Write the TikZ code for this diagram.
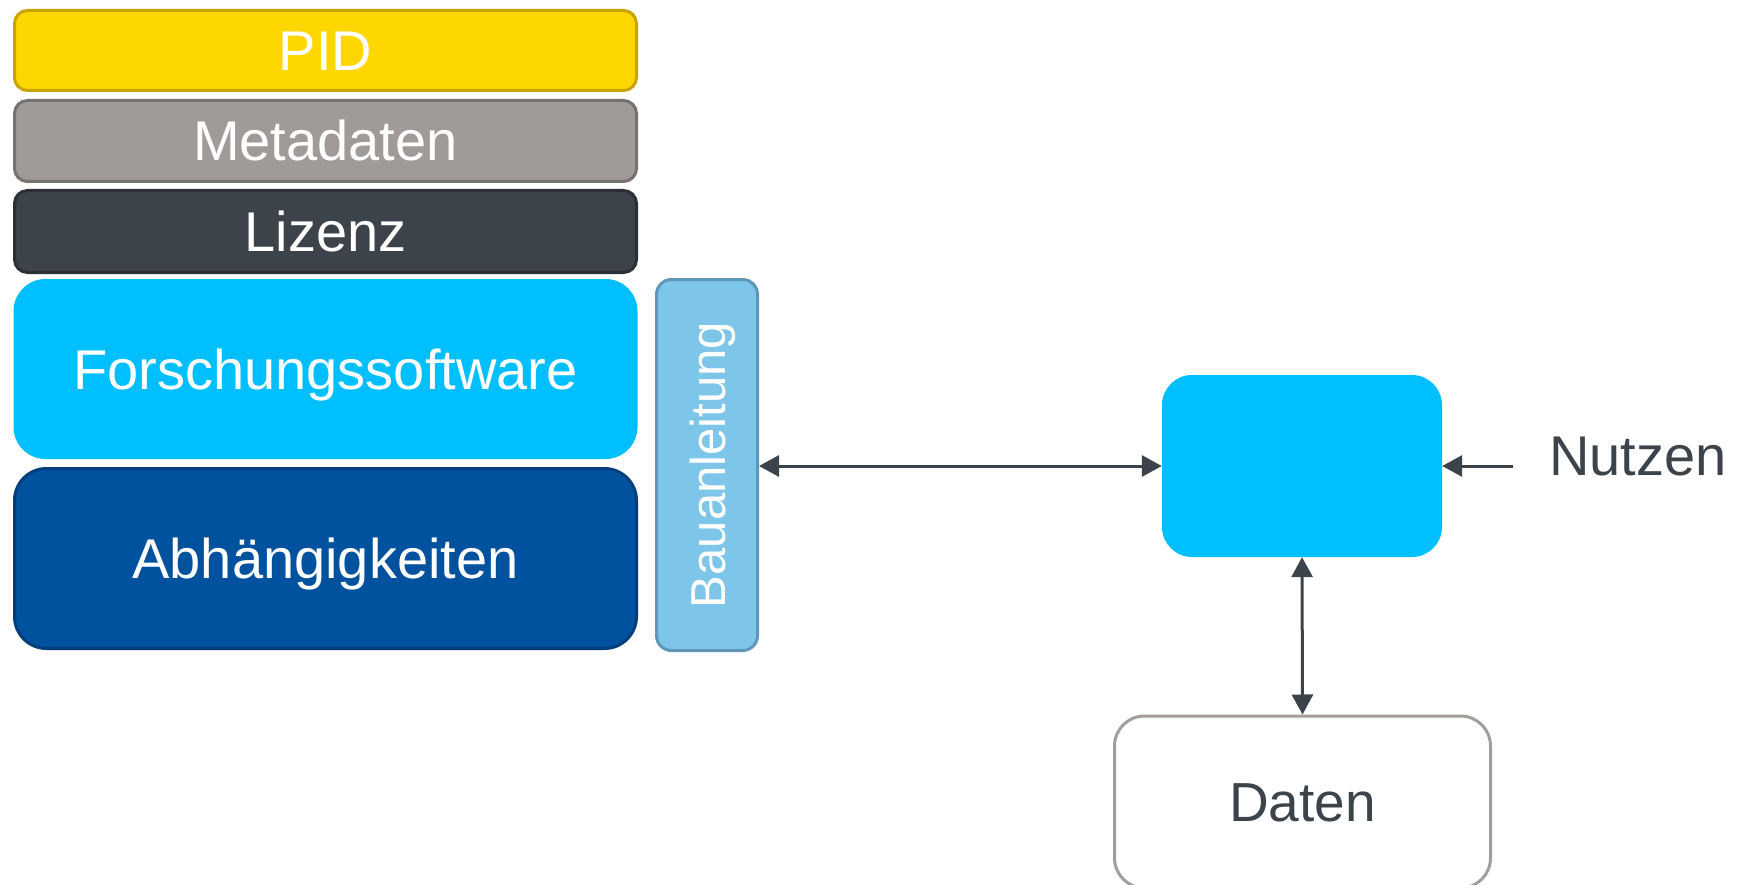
\documentclass[tikz,border=0pt]{standalone}
\usepackage{fontspec}
\setmainfont{Liberation Sans}
\usetikzlibrary{arrows.meta}
\definecolor{pidfill}{HTML}{FFD700}
\definecolor{piddraw}{HTML}{C9A300}
\definecolor{metafill}{HTML}{A09B98}
\definecolor{metadraw}{HTML}{77726F}
\definecolor{lizfill}{HTML}{3C434A}
\definecolor{lizdraw}{HTML}{2B3036}
\definecolor{skyfill}{HTML}{00BFFF}
\definecolor{abfill}{HTML}{00519E}
\definecolor{abdraw}{HTML}{003E7C}
\definecolor{baufill}{HTML}{7EC6E9}
\definecolor{baudraw}{HTML}{5E97B8}
\definecolor{datdraw}{HTML}{A39E9B}
\definecolor{darktext}{HTML}{3C434A}
\tikzset{
  layer/.style={rectangle, rounded corners=13pt, line width=3pt, minimum width=622pt,
    text=white, font=\fontsize{56}{60}\selectfont, text height=40pt, text depth=0pt, inner sep=0pt},
  bigbox/.style={rectangle, rounded corners=32pt, line width=3pt,
    text=white, font=\fontsize{56}{60}\selectfont, text height=40pt, text depth=0pt, inner sep=0pt},
  conn/.style={line width=3pt, draw=darktext, {Triangle[length=20pt,width=21pt]}-{Triangle[length=20pt,width=21pt]}},
  oneway/.style={line width=3pt, draw=darktext, -{Triangle[length=20pt,width=21pt]}},
}
\begin{document}
\begin{tikzpicture}[x=1pt,y=-1pt]
\useasboundingbox (0,0) rectangle (1747,885);
\clip (0,0) rectangle (1747,885);
\fill[white] (0,0) rectangle (1747,885);
\node[layer, fill=pidfill, draw=piddraw, minimum height=80pt] (pid) at (325.5,50.5) {PID};
\node[layer, fill=metafill, draw=metadraw, minimum height=81pt] (meta) at (325.5,141) {Metadaten};
\node[layer, fill=lizfill, draw=lizdraw, minimum height=82pt] (liz) at (325.5,231.5) {Lizenz};
\node[bigbox, fill=skyfill, minimum width=624pt, minimum height=180pt] (fs) at (325.5,369) {Forschungssoftware};
\node[bigbox, fill=abfill, draw=abdraw, minimum width=622pt, minimum height=180pt] (ab) at (325.5,558.5) {Abhängigkeiten};
\node[rectangle, rounded corners=15pt, line width=3pt, fill=baufill, draw=baudraw,
  minimum width=101pt, minimum height=371pt, inner sep=0pt] (bau) at (707,465) {};
\node[rotate=90, text=white, font=\fontsize{49}{52}\selectfont, text height=35pt, text depth=0pt, inner sep=0pt] (baut) at (707.5,465) {Bauanleitung};
\node[rectangle, rounded corners=30pt, fill=skyfill, minimum width=280pt, minimum height=182pt, inner sep=0pt] (box) at (1302,466) {};
\node[rectangle, rounded corners=30pt, line width=3pt, fill=white, draw=datdraw,
  minimum width=376pt, minimum height=172pt, inner sep=0pt, text=darktext,
  font=\fontsize{55}{60}\selectfont, text height=39.5pt, text depth=0pt] (daten) at (1302.5,802) {Daten};
\node[anchor=base west, text=darktext, font=\fontsize{56}{60}\selectfont, inner sep=0pt] (nutzen) at (1549,475) {Nutzen};
\coordinate (nstart) at (1513,466);
\draw[conn] (bau.east |- box.west) -- (box.west);
\draw[conn] (box.south) -- (daten.north);
\draw[oneway] (nstart) -- (box.east);
\end{tikzpicture}
\end{document}
